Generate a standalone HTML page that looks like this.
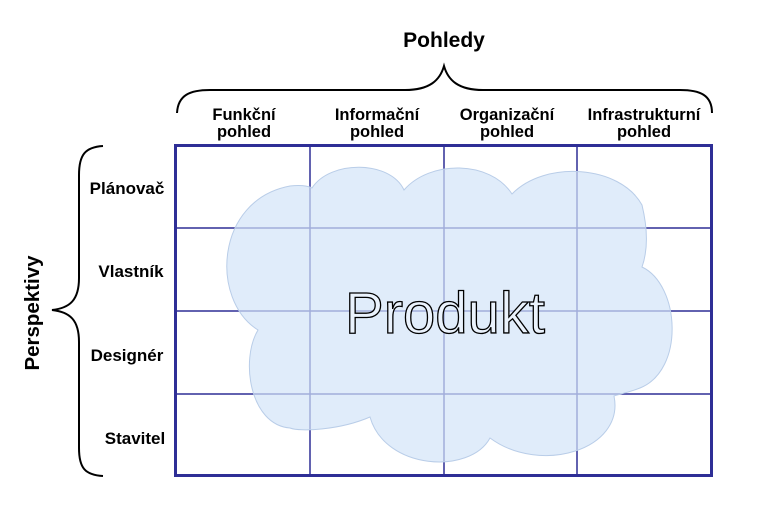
<!DOCTYPE html>
<html><head><meta charset="utf-8"><style>body{margin:0;background:#fff}svg{display:block}</style></head>
<body>
<svg width="758" height="512" viewBox="0 0 758 512" xmlns="http://www.w3.org/2000/svg" font-family="Liberation Sans, sans-serif">
<rect width="758" height="512" fill="#fff"/>
<g stroke="#2e2e96" fill="none">
<line x1="310" y1="145" x2="310" y2="476" stroke-width="1.5"/>
<line x1="444" y1="145" x2="444" y2="476" stroke-width="1.5"/>
<line x1="577" y1="145" x2="577" y2="476" stroke-width="1.5"/>
<line x1="175" y1="228" x2="712" y2="228" stroke-width="1.5"/>
<line x1="175" y1="311" x2="712" y2="311" stroke-width="1.5"/>
<line x1="175" y1="394" x2="712" y2="394" stroke-width="1.5"/>
<rect x="175.5" y="145.5" width="536" height="330" stroke-width="3"/>
</g>
<path d="M258,330 C210,300 215,200 290,186 C300,185 308,186 312,188 C330,160 390,160 404,190 C430,160 490,160 512,194 C545,160 620,165 642,205 C648,230 648,250 642,267 C680,285 685,370 640,388 C630,392 620,394 614,396 C625,450 540,475 490,438 C470,475 385,470 370,417 C340,430 300,432 290,428 C250,425 240,360 258,330 Z" fill="#d3e4f8" fill-opacity="0.7" stroke="#b9cde8" stroke-width="1"/>
<text x="445" y="333" font-size="58" text-anchor="middle" fill="#eaf2fc" stroke="#000" stroke-width="1.3">Produkt</text>
<text x="444" y="47" font-size="21" font-weight="bold" text-anchor="middle">Pohledy</text>
<g font-size="16.5" font-weight="bold" text-anchor="middle">
<text x="244" y="120">Funkční</text><text x="244" y="137">pohled</text>
<text x="377" y="120">Informační</text><text x="377" y="137">pohled</text>
<text x="507" y="120">Organizační</text><text x="507" y="137">pohled</text>
<text x="644" y="120">Infrastrukturní</text><text x="644" y="137">pohled</text>
</g>
<g font-size="17" font-weight="bold" text-anchor="middle">
<text x="127" y="194">Plánovač</text>
<text x="131" y="277">Vlastník</text>
<text x="127" y="361">Designér</text>
<text x="135" y="444">Stavitel</text>
</g>
<text transform="translate(39,313) rotate(-90)" font-size="20.5" font-weight="bold" text-anchor="middle">Perspektivy</text>
<g fill="none" stroke="#000" stroke-width="2">
<path d="M177,113 C178,95 190,90 210,90 L405,90 C430,90 440,80 444,66 C448,80 458,90 483,90 L680,90 C700,90 712,95 712,113"/>
<path d="M103,146 C85,147 79,155 79,175 L79,278 C79,300 70,308 52,310 C70,312 79,320 79,342 L79,448 C79,468 85,475 103,476"/>
</g>
</svg>
</body></html>
